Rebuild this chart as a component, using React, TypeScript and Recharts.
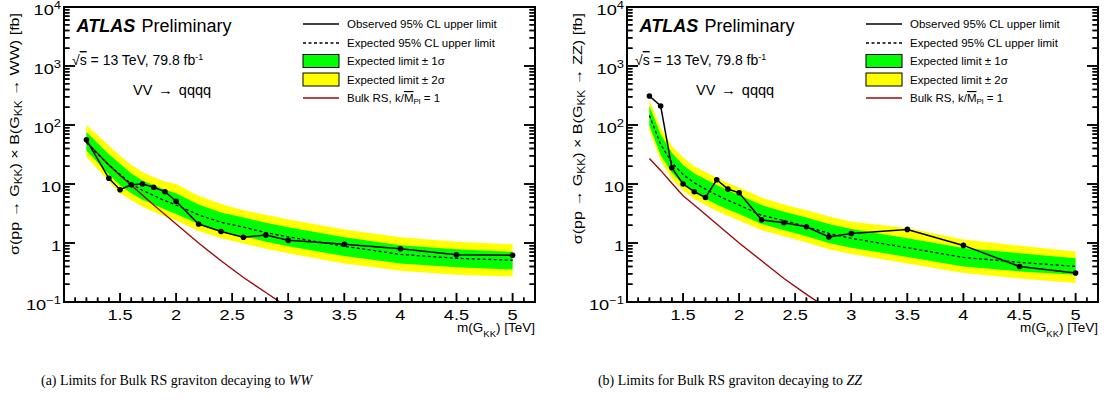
import React from 'react';
import { ComposedChart, Area, Line, XAxis, YAxis } from 'recharts';

// ---- (a) G_KK -> WW ----
const massWW = [1.2, 1.4, 1.5, 1.6, 1.7, 1.8, 1.9, 2.0, 2.2, 2.4, 2.6, 2.8, 3.0, 3.5, 4.0, 4.5, 5.0];
const obsWW = [56, 12.5, 8.0, 9.7, 10, 8.8, 7.4, 5.1, 2.1, 1.57, 1.25, 1.37, 1.11, 0.95, 0.8, 0.63, 0.62];
const expWW = [50, 21, 14.5, 10, 7.8, 6.4, 5.2, 4.4, 3.0, 2.25, 1.85, 1.5, 1.27, 0.88, 0.64, 0.55, 0.51];
const g1hiWW = [76, 32, 22, 15, 11.5, 9.5, 8, 7, 4.5, 3.3, 2.7, 2.2, 1.85, 1.25, 0.92, 0.78, 0.71];
const g1loWW = [37, 14.5, 9.5, 7, 5.4, 4.5, 3.7, 3.1, 2.1, 1.6, 1.3, 1.05, 0.88, 0.6, 0.45, 0.39, 0.355];
const g2hiWW = [100, 45, 30, 21, 16, 13, 11, 10, 6.3, 4.6, 3.6, 3.0, 2.5, 1.7, 1.25, 1.05, 0.95];
const g2loWW = [29, 11, 7, 5.3, 4.1, 3.4, 2.8, 2.4, 1.6, 1.2, 0.98, 0.8, 0.67, 0.45, 0.34, 0.29, 0.27];
const rsMassWW = [1.2, 1.3, 1.4, 1.5, 1.6, 1.8, 2.0, 2.2, 2.4, 2.6, 2.8, 3.0];
const rsWW = [52, 33, 21, 14, 9.5, 4.4, 2.1, 1.0, 0.5, 0.26, 0.145, 0.08];

// ---- (b) G_KK -> ZZ ----
const massZZ = [1.2, 1.3, 1.4, 1.5, 1.6, 1.7, 1.8, 1.9, 2.0, 2.2, 2.4, 2.6, 2.8, 3.0, 3.5, 4.0, 4.5, 5.0];
const obsZZ = [310, 210, 18.8, 10, 7.4, 5.9, 11.8, 8.2, 7.1, 2.47, 2.2, 1.88, 1.27, 1.45, 1.7, 0.91, 0.4, 0.31];
const expZZ = [145, 47, 23, 14.5, 10.5, 8.2, 6.5, 5.3, 4.4, 2.95, 2.4, 1.9, 1.45, 1.2, 0.83, 0.57, 0.47, 0.4];
const g1hiZZ = [210, 70, 34, 21, 15, 12, 9.6, 7.8, 6.5, 4.4, 3.4, 2.7, 2.1, 1.72, 1.2, 0.82, 0.67, 0.55];
const g1loZZ = [97, 31, 15.5, 9.8, 7.1, 5.6, 4.5, 3.7, 3.1, 2.1, 1.65, 1.3, 1.0, 0.83, 0.58, 0.4, 0.33, 0.29];
const g2hiZZ = [262, 90, 44, 28, 20, 16, 12.8, 10.4, 8.7, 5.9, 4.5, 3.6, 2.8, 2.3, 1.8, 1.15, 0.9, 0.72];
const g2loZZ = [80, 25, 12.2, 7.7, 5.6, 4.4, 3.5, 2.9, 2.4, 1.65, 1.3, 1.02, 0.78, 0.65, 0.45, 0.31, 0.25, 0.21];
const rsMassZZ = [1.2, 1.3, 1.4, 1.5, 1.6, 1.8, 2.0, 2.2, 2.4, 2.6, 2.8];
const rsZZ = [27, 17, 10.3, 6.3, 4.4, 2.1, 1.0, 0.5, 0.25, 0.135, 0.075];

const xLabels = [1.5, 2, 2.5, 3, 3.5, 4, 4.5, 5];
const xTicks = Array.from({ length: 41 }, (_, i) => (11 + i) / 10);
const yTicks: number[] = [];
for (let e = -1; e <= 3; e++) for (let k = 1; k <= 9; k++) yTicks.push(+(k * Math.pow(10, e)).toPrecision(2));
yTicks.push(10000);

const W = 553;
const H = 408;
const PL = 64;
const PR = 535;
const PT = 7;
const PB = 302;
const PANEL2 = 563;
const XMIN = 1;
const XMAX = 5.2;
const SANS = 'Liberation Sans, Arial, sans-serif';
const SERIF = 'Liberation Serif, Times New Roman, serif';
const AXIS = { stroke: '#000', strokeWidth: 2 };

// frame decoration helpers (same box as the recharts plot area)
const xpx = (v: number) => PL + ((v - XMIN) / (XMAX - XMIN)) * (PR - PL);
const ypx = (v: number) => PB - ((Math.log10(v) + 1) / 5) * (PB - PT);

const XTick = (props: any) => {
  const { x, payload } = props;
  const v = payload.value;
  const major = Math.abs(v * 2 - Math.round(v * 2)) < 1e-6;
  const show = xLabels.some((l) => Math.abs(l - v) < 1e-6);
  return (
    <g>
      <path d={`M${x},${PB}V${PB - (major ? 9 : 4.5)}`} stroke="#000" strokeWidth={1.5} fill="none" />
      {show && (
        <text transform={`translate(${x},${PB + 17.5}) scale(1.3,1)`} textAnchor="middle" fontSize={14} fontFamily={SANS} fill="#000">
          {v}
        </text>
      )}
    </g>
  );
};

const YTick = (props: any) => {
  const { y, payload } = props;
  const v = payload.value;
  const lg = Math.log10(v);
  const e = Math.round(lg);
  const major = Math.abs(lg - e) < 1e-6;
  const len = major ? 11 : 5.5;
  const label =
    e === 0 ? '1' : e === 1 ? '10' : (
      <>
        10<tspan dy={-6} fontSize={10}>{e < 0 ? '\u2212' + -e : e}</tspan>
      </>
    );
  return (
    <g>
      <path d={`M${PL},${y}H${PL + len}M${PR},${y}H${PR - len}`} stroke="#000" strokeWidth={1.5} fill="none" />
      {major && (
        <text transform={`translate(${PL - 3},${y + 8}) scale(1.3,1)`} textAnchor="end" fontSize={14} fontFamily={SANS} fill="#000">
          {label}
        </text>
      )}
    </g>
  );
};

interface PanelProps {
  mass: number[];
  obs: number[];
  exp: number[];
  g1lo: number[];
  g1hi: number[];
  g2lo: number[];
  g2hi: number[];
  rsMass: number[];
  rs: number[];
}

function Panel({ mass, obs, exp, g1lo, g1hi, g2lo, g2hi, rsMass, rs }: PanelProps) {
  const rows = mass.map((m, i) => ({
    m,
    obs: obs[i],
    exp: exp[i],
    s1: [g1lo[i], g1hi[i]],
    s2: [g2lo[i], g2hi[i]],
  }));
  const rsRows = rsMass.map((m, i) => ({ m, rs: rs[i] }));
  return (
    <ComposedChart width={W} height={H} data={rows} margin={{ top: PT, right: W - PR, left: 0, bottom: 0 }}>
      <XAxis
        type="number"
        dataKey="m"
        domain={[XMIN, XMAX]}
        allowDataOverflow
        ticks={xTicks}
        interval={0}
        tick={XTick}
        tickLine={false}
        axisLine={AXIS}
        height={H - PB}
      />
      <XAxis xAxisId="top" orientation="top" type="number" dataKey="m" domain={[XMIN, XMAX]} allowDataOverflow tick={false} tickLine={false} axisLine={AXIS} height={0} />
      <YAxis
        type="number"
        scale="log"
        domain={[0.1, 10000]}
        allowDataOverflow
        ticks={yTicks}
        interval={0}
        tick={YTick}
        tickLine={false}
        axisLine={AXIS}
        width={PL}
      />
      <YAxis yAxisId="right" orientation="right" type="number" scale="log" domain={[0.1, 10000]} allowDataOverflow tick={false} tickLine={false} axisLine={AXIS} width={0} />
      <Area type="linear" dataKey="s2" fill="#ffff00" fillOpacity={1} stroke="none" isAnimationActive={false} />
      <Area type="linear" dataKey="s1" fill="#00ff00" fillOpacity={1} stroke="none" isAnimationActive={false} />
      <Line type="linear" data={rsRows} dataKey="rs" stroke="#9b0a0a" strokeWidth={1.4} dot={false} isAnimationActive={false} />
      <Line type="linear" dataKey="exp" stroke="#000" strokeWidth={1.3} strokeDasharray="3 2.5" dot={false} isAnimationActive={false} />
      <Line
        type="linear"
        dataKey="obs"
        stroke="#000"
        strokeWidth={1.5}
        dot={{ r: 2.8, fill: '#000', stroke: '#000', strokeWidth: 0 }}
        isAnimationActive={false}
      />
    </ComposedChart>
  );
}

function Overlay({ dx, decay }: { dx: number; decay: string }) {
  const rowY = [24, 43, 61, 79.5, 98];
  const lx = 303 + dx;
  const tx = 347 + dx;
  const L = PL + dx;
  const R = PR + dx;
  return (
    <g fontFamily={SANS} fill="#000">
      {/* frame with inward ticks (drawn over the bands) */}
      {xTicks.map((v, i) => {
        const major = Math.abs(v * 2 - Math.round(v * 2)) < 1e-6;
        const x = xpx(v) + dx;
        return <line key={'x' + i} x1={x} x2={x} y1={PB} y2={PB - (major ? 9 : 4.5)} stroke="#000" strokeWidth={1.5} />;
      })}
      {yTicks.map((v, i) => {
        const lg = Math.log10(v);
        const len = Math.abs(lg - Math.round(lg)) < 1e-6 ? 11 : 5.5;
        const y = ypx(v);
        return (
          <g key={'y' + i}>
            <line x1={L} x2={L + len} y1={y} y2={y} stroke="#000" strokeWidth={1.5} />
            <line x1={R} x2={R - len} y1={y} y2={y} stroke="#000" strokeWidth={1.5} />
          </g>
        );
      })}
      <rect x={L} y={PT} width={R - L} height={PB - PT} fill="none" stroke="#000" strokeWidth={2} />

      <text x={76.5 + dx} y={31.7} fontSize={18} fontWeight="bold" fontStyle="italic">ATLAS</text>
      <text x={141.5 + dx} y={31.7} fontSize={18}>Preliminary</text>
      <text x={72 + dx} y={65} fontSize={14}>
        {'\u221A'}<tspan style={{ textDecoration: 'overline' }}>s</tspan> = 13 TeV, 79.8 fb<tspan dy={-5} fontSize={9}>-1</tspan>
      </text>
      <text x={133 + dx} y={95} fontSize={14.5}>
        VV<tspan dx={6}>{'\u2192'}</tspan><tspan dx={6}>qqqq</tspan>
      </text>

      {/* legend */}
      <line x1={lx} x2={lx + 36} y1={rowY[0]} y2={rowY[0]} stroke="#000" strokeWidth={1.5} />
      <line x1={lx} x2={lx + 36} y1={rowY[1]} y2={rowY[1]} stroke="#000" strokeWidth={1.3} strokeDasharray="3 2.5" />
      <rect x={lx} y={rowY[2] - 6.5} width={36} height={13} fill="#00ff00" stroke="#000" strokeWidth={1} />
      <rect x={lx} y={rowY[3] - 6.5} width={36} height={13} fill="#ffff00" stroke="#000" strokeWidth={1} />
      <line x1={lx} x2={lx + 36} y1={rowY[4]} y2={rowY[4]} stroke="#9b0a0a" strokeWidth={1.4} />
      <text x={tx} y={rowY[0] + 4} fontSize={11.5}>Observed 95% CL upper limit</text>
      <text x={tx} y={rowY[1] + 4} fontSize={11.5}>Expected 95% CL upper limit</text>
      <text x={tx} y={rowY[2] + 4} fontSize={11.5}>Expected limit {'\u00B1'} 1{'\u03C3'}</text>
      <text x={tx} y={rowY[3] + 4} fontSize={11.5}>Expected limit {'\u00B1'} 2{'\u03C3'}</text>
      <text x={tx} y={rowY[4] + 4} fontSize={11.5}>
        Bulk RS, k/<tspan style={{ textDecoration: 'overline' }}>M</tspan>
        <tspan dy={2} fontSize={8}>Pl</tspan>
        <tspan dy={-2}> = 1</tspan>
      </text>

      {/* axis titles */}
      <text transform={`translate(${19 + dx},13) rotate(-90) scale(1.19,1)`} textAnchor="end" fontSize={13.5}>
        {'\u03C3'}(pp {'\u2192'} G<tspan dy={3} fontSize={10}>KK</tspan>
        <tspan dy={-3}>) {'\u00D7'} B(G</tspan>
        <tspan dy={3} fontSize={10}>KK</tspan>
        <tspan dy={-3}> {'\u2192'} {decay}) [fb]</tspan>
      </text>
      <text x={PR + dx} y={332} textAnchor="end" fontSize={13.5}>
        m(G<tspan dy={5} fontSize={9.5}>KK</tspan>
        <tspan dy={-5}>) [TeV]</tspan>
      </text>
    </g>
  );
}

export default function App() {
  return (
    <div style={{ position: 'absolute', left: 0, top: 0, width: 1107, height: 408, background: '#fff' }}>
      <div style={{ position: 'absolute', left: 0, top: 0 }}>
        <Panel mass={massWW} obs={obsWW} exp={expWW} g1lo={g1loWW} g1hi={g1hiWW} g2lo={g2loWW} g2hi={g2hiWW} rsMass={rsMassWW} rs={rsWW} />
      </div>
      <div style={{ position: 'absolute', left: PANEL2, top: 0 }}>
        <Panel mass={massZZ} obs={obsZZ} exp={expZZ} g1lo={g1loZZ} g1hi={g1hiZZ} g2lo={g2loZZ} g2hi={g2hiZZ} rsMass={rsMassZZ} rs={rsZZ} />
      </div>
      <svg width={1107} height={408} style={{ position: 'absolute', left: 0, top: 0, pointerEvents: 'none' }}>
        <Overlay dx={0} decay="WW" />
        <Overlay dx={PANEL2} decay="ZZ" />
        <text transform="translate(176.5,385) scale(0.9,1)" textAnchor="middle" fontSize={15.5} fontFamily={SERIF}>
          (a) Limits for Bulk RS graviton decaying to <tspan fontStyle="italic">WW</tspan>
        </text>
        <text transform="translate(730,385) scale(0.9,1)" textAnchor="middle" fontSize={15.5} fontFamily={SERIF}>
          (b) Limits for Bulk RS graviton decaying to <tspan fontStyle="italic">ZZ</tspan>
        </text>
      </svg>
    </div>
  );
}
